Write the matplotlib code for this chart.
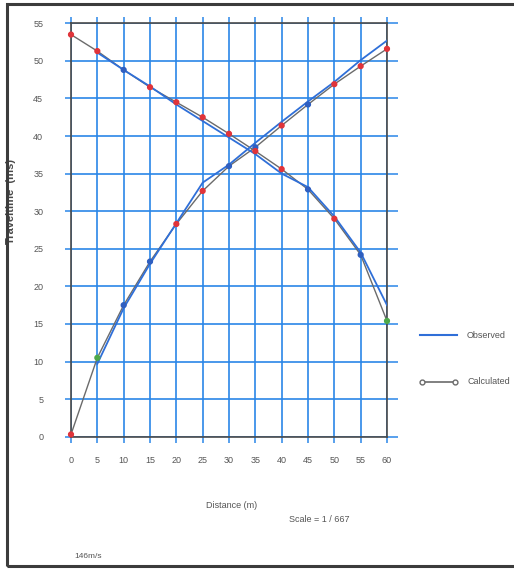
import matplotlib
matplotlib.use("Agg")
import matplotlib.pyplot as plt
from matplotlib.patches import Rectangle
from matplotlib.lines import Line2D

plt.rcParams['font.family'] = ['Liberation Sans Narrow', 'Liberation Sans', 'DejaVu Sans']

# Geophone positions (m)
distance = [0, 5, 10, 15, 20, 25, 30, 35, 40, 45, 50, 55, 60]

# Forward shot (source at 0 m)
fwd_observed_x = [5, 10, 15, 20, 25, 30, 35, 40, 45, 50, 55, 60]
fwd_observed = [9.7, 17.1, 23.0, 28.4, 33.8, 36.2, 39.1, 41.9, 44.6, 47.2, 50.1, 52.7]
fwd_calculated = [0.3, 10.5, 17.5, 23.3, 28.3, 32.7, 36.0, 38.5, 41.4, 44.2, 46.9, 49.3, 51.6]

# Reverse shot (source at 60 m)
rev_observed_x = [5, 10, 15, 20, 25, 30, 35, 40, 45, 50, 55, 60]
rev_observed = [51.1, 48.8, 46.6, 44.2, 42.0, 39.8, 37.6, 35.0, 33.2, 29.3, 24.5, 17.5]
rev_calculated = [53.5, 51.3, 48.8, 46.5, 44.5, 42.5, 40.3, 38.0, 35.6, 32.9, 29.0, 24.2, 15.4]

x_ticks = [0, 5, 10, 15, 20, 25, 30, 35, 40, 45, 50, 55, 60]
y_ticks = [0, 5, 10, 15, 20, 25, 30, 35, 40, 45, 50, 55]

GRID_BLUE = '#2a86e8'
LINE_BLUE = '#2f6fd8'
CALC_GRAY = '#6b6b6b'
TEXT_GRAY = '#555555'

fwd_marker_colors = ['#e0343a', '#4ea84a', '#2f5fc0', '#2f5fc0', '#e0343a', '#e0343a',
                     '#2f5fc0', '#2f5fc0', '#e0343a', '#2f5fc0', '#e0343a', '#e0343a', '#e0343a']
rev_marker_colors = ['#e0343a', '#e0343a', '#2f5fc0', '#e0343a', '#e0343a', '#e0343a',
                     '#e0343a', '#e0343a', '#e0343a', '#2f5fc0', '#e0343a', '#2f5fc0', '#4ea84a']

W, H = 514, 572
fig = plt.figure(figsize=(W / 100, H / 100), dpi=100)
fig.patch.set_facecolor('white')

# outer frame
fig.patches.append(Rectangle((7 / W, 6 / H), 1.2, 1 - 10 / H, transform=fig.transFigure,
                             fill=False, edgecolor='#3c3c3c', linewidth=2.2))

ax = fig.add_axes([71 / W, (H - 436.7) / H, 316 / W, 413.4 / H])
ax.set_xlim(0, 60)
ax.set_ylim(0, 55)
ax.set_xticks(x_ticks)
ax.set_yticks(y_ticks)
ax.grid(True, color=GRID_BLUE, linewidth=1.2)
ax.set_axisbelow(True)
for side in ['left', 'right', 'top', 'bottom']:
    ax.spines[side].set_color('#4a4a4a')
    ax.spines[side].set_linewidth(1.2)
ax.tick_params(axis='both', which='both', direction='out', length=4, width=1.1,
               color=GRID_BLUE, labelsize=6.5, labelcolor=TEXT_GRAY,
               top=True, right=True, labeltop=False, labelright=False)
ax.tick_params(axis='y', which='both', right=True)
ax.tick_params(axis='y', pad=16)
ax.tick_params(axis='x', pad=10)
for t in ax.yaxis.get_major_ticks():
    t.tick2line.set_markersize(8)

# calculated curves
ax.plot(distance, fwd_calculated, color=CALC_GRAY, linewidth=1.0, zorder=3)
ax.plot(distance, rev_calculated, color=CALC_GRAY, linewidth=1.0, zorder=3)
ax.scatter(distance, fwd_calculated, s=12, c=fwd_marker_colors, zorder=5, clip_on=False)
ax.scatter(distance, rev_calculated, s=12, c=rev_marker_colors, zorder=5, clip_on=False)

# observed curves
ax.plot(fwd_observed_x, fwd_observed, color=LINE_BLUE, linewidth=1.3, zorder=4)
ax.plot(rev_observed_x, rev_observed, color=LINE_BLUE, linewidth=1.3, zorder=4)

ax.set_ylabel('Traveltime  (ms)', fontsize=8, color='#4a4a4a', fontweight='bold')
ax.yaxis.set_label_coords(-0.175, 0.57)

# legend drawn in figure coordinates
fig.add_artist(Line2D([420 / W, 457 / W], [1 - 335 / H, 1 - 335 / H], color=LINE_BLUE,
                      linewidth=1.5, transform=fig.transFigure))
fig.text(467 / W, 1 - 335 / H, 'Observed', fontsize=6.5, color=TEXT_GRAY, va='center')
fig.add_artist(Line2D([422 / W, 455 / W], [1 - 382 / H, 1 - 382 / H], color=CALC_GRAY,
                      linewidth=1.2, marker='o', markersize=3.5, markerfacecolor='white',
                      markeredgecolor=CALC_GRAY, transform=fig.transFigure))
fig.text(467 / W, 1 - 382 / H, 'Calculated', fontsize=6.5, color=TEXT_GRAY, va='center')

fig.text(232 / W, 1 - 506 / H, 'Distance (m)', fontsize=6.5, color=TEXT_GRAY,
         ha='center', va='center')
fig.text(319 / W, 1 - 520 / H, 'Scale = 1 / 667', fontsize=6.5, color=TEXT_GRAY,
         ha='center', va='center')
fig.text(88 / W, 1 - 556 / H, '146m/s', fontsize=6, color=TEXT_GRAY,
         ha='center', va='center')

fig.savefig('out.png', dpi=100, facecolor='white')
